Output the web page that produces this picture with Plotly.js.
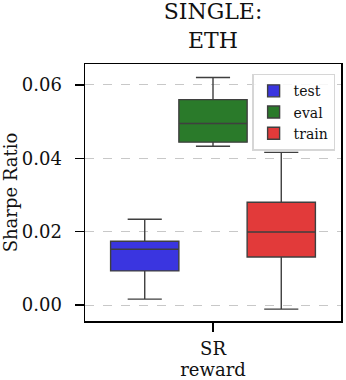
<!DOCTYPE html>
<html>
<head>
<meta charset="utf-8">
<script src="https://cdn.plot.ly/plotly-3.0.1.min.js"></script>
<style>
  html, body { margin: 0; padding: 0; background: #fff; }
  #chart { width: 346px; height: 380px; }
</style>
</head>
<body>
<div id="chart"></div>
<script>
// box summaries
const category = 'SR';
const seriesNames = ['test', 'eval', 'train'];
const seriesColors = ['#3a35e0', '#2a7a2a', '#e23a3a'];
const lowerFence = [0.0016, 0.0433, -0.0011];
const q1 = [0.0093, 0.0444, 0.0131];
const median = [0.0152, 0.0495, 0.0199];
const q3 = [0.0174, 0.0560, 0.0280];
const upperFence = [0.0234, 0.0620, 0.0416];
const yTicks = [0, 0.02, 0.04, 0.06];

const traces = seriesNames.map((name, i) => ({
    type: 'box',
    name: name,
    x: [category],
    q1: [q1[i]],
    median: [median[i]],
    q3: [q3[i]],
    lowerfence: [lowerFence[i]],
    upperfence: [upperFence[i]],
    fillcolor: seriesColors[i],
    line: { color: '#3f3f3f', width: 1.4 },
    whiskerwidth: 0.5,
    boxpoints: false,
    hoverinfo: 'skip'
}));

const font = "'DejaVu Serif', serif";

const layout = {
    width: 346,
    height: 380,
    margin: { l: 85, r: 5, t: 64, b: 59 },
    paper_bgcolor: '#fff',
    plot_bgcolor: '#fff',
    font: { family: font, size: 18, color: '#111' },
    title: {
        text: 'SINGLE:<br>ETH',
        font: { family: font, size: 22, color: '#111' },
        xref: 'paper', x: 0.5, xanchor: 'center',
        yref: 'paper', y: 1, yanchor: 'bottom',
        pad: { b: 45 }
    },
    boxmode: 'group',
    boxgap: 0.2,
    boxgroupgap: 0,
    showlegend: true,
    legend: {
        x: 0.977, xanchor: 'right',
        y: 0.962, yanchor: 'top',
        bgcolor: 'rgba(255,255,255,0.85)',
        bordercolor: '#d6d6d6',
        borderwidth: 1.5,
        font: { family: font, size: 14, color: '#111' },
        itemwidth: 30,
        tracegroupgap: 0
    },
    xaxis: {
        type: 'category',
        range: [-0.5, 0.5],
        showline: true, linecolor: '#000', linewidth: 1.5, mirror: true,
        ticks: 'outside', ticklen: 9, tickwidth: 1.5, tickcolor: '#000',
        ticklabelstandoff: 2,
        showgrid: false,
        title: { text: 'reward', standoff: 0, font: { family: font, size: 18 } },
        tickfont: { family: font, size: 18 }
    },
    yaxis: {
        range: [-0.00435, 0.0657],
        tickvals: yTicks,
        ticktext: yTicks.map(v => v.toFixed(2)),
        showline: true, linecolor: '#000', linewidth: 1.5, mirror: true,
        ticks: 'outside', ticklen: 9, tickwidth: 1.5, tickcolor: '#000',
        ticklabelstandoff: 9,
        showgrid: true, gridcolor: '#c8c8c8', griddash: 'dash', gridwidth: 1,
        zeroline: false,
        title: { text: 'Sharpe Ratio', standoff: 4, font: { family: font, size: 18 } },
        tickfont: { family: font, size: 18 }
    }
};

Plotly.newPlot('chart', traces, layout, { staticPlot: true, displayModeBar: false });
</script>
</body>
</html>
